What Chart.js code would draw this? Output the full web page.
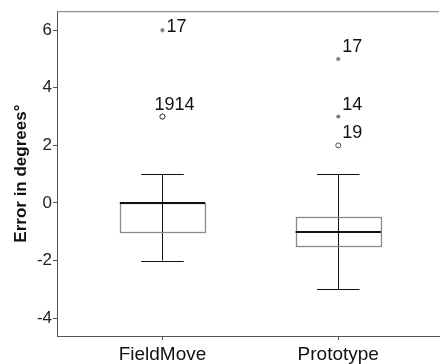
<!DOCTYPE html>
<html>
<head>
<meta charset="utf-8">
<script src="https://cdn.jsdelivr.net/npm/chart.js@4.4.1/dist/chart.umd.min.js"></script>
<style>
html, body { margin: 0; padding: 0; background: #fff; overflow: hidden; }
#wrap { width: 444px; height: 364px; }
</style>
</head>
<body>
<div id="wrap"><canvas id="c" width="444" height="364"></canvas></div>
<script>
'use strict';

/* global Chart */

const groups = ['FieldMove', 'Prototype'];
const whiskerLow = [-2, -3];
const quart1 = [-1, -1.5];
const medians = [0, -1];
const quart3 = [0, -0.5];
const whiskerHigh = [1, 1];

// outliers (o) and extremes (*): group index, value, case number
const circleGroup = [0, 0, 1];
const circleValue = [3, 3, 2];
const circleId = ['19', '14', '19'];
const starGroup = [0, 1, 1];
const starValue = [6, 5, 3];
const starId = ['17', '17', '14'];

const yTicks = [-4, -2, 0, 2, 4, 6];

const FONT = 'Liberation Sans, Arial, sans-serif';
const BOX_W = 0.485;   // in x units
const CAP_W = 0.242;

let toPoints = (grp, val) => grp.map((g, i) => ({ x: g + 1, y: val[i] }));

const boxPlugin = {
    id: 'boxes',
    beforeDatasetsDraw(chart) {
        const ctx = chart.ctx, x = chart.scales.x, y = chart.scales.y;
        const area = chart.chartArea;
        ctx.save();
        // top frame line
        ctx.strokeStyle = '#777';
        ctx.lineWidth = 1;
        ctx.beginPath();
        ctx.moveTo(area.left, area.top + 0.5);
        ctx.lineTo(area.right, area.top + 0.5);
        ctx.stroke();
        for (let i = 0; i < groups.length; ++i) {
            const c = i + 1;
            const xc = Math.round(x.getPixelForValue(c)) + 0.5;
            const xl = x.getPixelForValue(c - BOX_W / 2), xr = x.getPixelForValue(c + BOX_W / 2);
            const cl = x.getPixelForValue(c - CAP_W / 2), cr = x.getPixelForValue(c + CAP_W / 2);
            const yLo = y.getPixelForValue(whiskerLow[i]), yHi = y.getPixelForValue(whiskerHigh[i]);
            const yQ1 = y.getPixelForValue(quart1[i]), yQ3 = y.getPixelForValue(quart3[i]);
            const yMed = y.getPixelForValue(medians[i]);
            // whisker stem and caps
            ctx.strokeStyle = '#111';
            ctx.lineWidth = 1;
            ctx.beginPath();
            ctx.moveTo(xc, yHi); ctx.lineTo(xc, yLo);
            ctx.moveTo(cl, Math.round(yHi) + 0.5); ctx.lineTo(cr, Math.round(yHi) + 0.5);
            ctx.moveTo(cl, Math.round(yLo) + 0.5); ctx.lineTo(cr, Math.round(yLo) + 0.5);
            ctx.stroke();
            // box
            ctx.strokeStyle = '#8a8a8a';
            ctx.lineWidth = 1.3;
            ctx.strokeRect(Math.round(xl) + 0.5, Math.round(yQ3) + 0.5, Math.round(xr - xl), Math.round(yQ1 - yQ3));
            // median
            ctx.strokeStyle = '#111';
            ctx.lineWidth = 2;
            ctx.beginPath();
            ctx.moveTo(xl, Math.round(yMed)); ctx.lineTo(xr, Math.round(yMed));
            ctx.stroke();
        }
        ctx.restore();
    },
    afterDatasetsDraw(chart) {
        const ctx = chart.ctx, x = chart.scales.x, y = chart.scales.y;
        const area = chart.chartArea;
        // join labels of cases that sit on the same spot
        const spots = [];
        let add = (g, v, id, kind) => {
            let s = spots.find((p) => p.g === g && p.v === v && p.kind === kind);
            if (!s) spots.push(s = { g, v, kind, ids: [] });
            s.ids.push(id);
        };
        circleGroup.forEach((g, i) => add(g, circleValue[i], circleId[i], 'o'));
        starGroup.forEach((g, i) => add(g, starValue[i], starId[i], '*'));
        ctx.save();
        ctx.font = '18px ' + FONT;
        ctx.fillStyle = '#111';
        ctx.textAlign = 'left';
        ctx.textBaseline = 'alphabetic';
        spots.forEach((s) => {
            const px = x.getPixelForValue(s.g + 1);
            const py = y.getPixelForValue(s.v);
            const tx = px + 4 - (s.ids.length - 1) * 12;
            const ty = Math.max(py - 7, area.top + 21);
            ctx.fillText(s.ids.join(''), tx, ty);
        });
        ctx.restore();
    }
};

const chart = new Chart(document.getElementById('c'), {
    type: 'scatter',
    data: {
        datasets: [{
            label: 'Outliers',
            data: toPoints(circleGroup, circleValue),
            pointStyle: 'circle',
            pointRadius: 2.5,
            borderColor: '#444',
            backgroundColor: '#fff',
            borderWidth: 1
        }, {
            label: 'Extremes',
            data: toPoints(starGroup, starValue),
            pointStyle: 'star',
            pointRadius: 2.3,
            borderColor: '#555',
            backgroundColor: '#555',
            borderWidth: 0.8
        }]
    },
    options: {
        responsive: false,
        animation: false,
        layout: { padding: { top: 10, right: 0, left: 0, bottom: 0 } },
        plugins: {
            legend: { display: false },
            tooltip: { enabled: false }
        },
        scales: {
            x: {
                type: 'linear',
                min: 0.4,
                max: 2.573,
                afterBuildTicks: (s) => { s.ticks = groups.map((g, i) => ({ value: i + 1 })); },
                afterFit: (s) => { s.height = 28; },
                grid: { drawOnChartArea: false, tickLength: 4, color: '#555' },
                border: { color: '#555' },
                ticks: {
                    callback: (v) => groups[Math.round(v) - 1],
                    font: { size: 19, family: FONT },
                    color: '#111',
                    padding: 3,
                    maxRotation: 0,
                    autoSkip: false
                }
            },
            y: {
                min: -4.62,
                max: 6.66,
                afterBuildTicks: (s) => { s.ticks = yTicks.map((v) => ({ value: v })); },
                afterFit: (s) => { s.width = 57; },
                grid: { drawOnChartArea: false, tickLength: 4, color: '#555' },
                border: { color: '#555' },
                ticks: {
                    font: { size: 17, family: FONT },
                    color: '#222',
                    padding: 1
                },
                title: {
                    display: true,
                    text: 'Error in degrees°',
                    font: { size: 17, weight: 'bold', family: FONT },
                    color: '#111',
                    padding: { top: 11, bottom: 0 }
                }
            }
        }
    },
    plugins: [boxPlugin]
});
</script>
</body>
</html>
